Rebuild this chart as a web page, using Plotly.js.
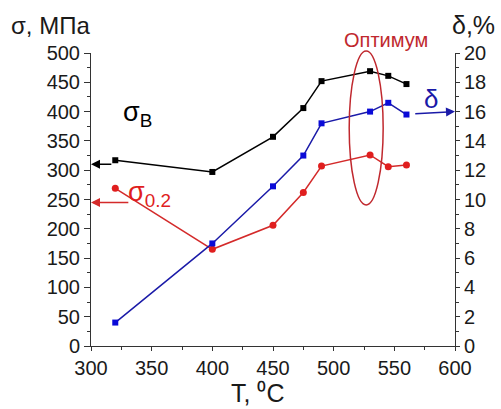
<!DOCTYPE html>
<html><head><meta charset="utf-8">
<script src="https://cdn.plot.ly/plotly-3.0.1.min.js"></script>
<style>html,body{margin:0;padding:0;background:#fff}#c{width:501px;height:409px}</style>
</head><body><div id="c"></div>
<script>
const temps = [320, 400, 450, 475, 490, 530, 545, 560];
const sigmaB = [317, 297, 357, 406, 452, 469, 461, 447];
const sigma02 = [269, 165, 206, 262, 307, 326, 306, 309];
const delta = [1.6, 7.0, 10.9, 13.0, 15.2, 16.0, 16.6, 15.8];
const xTicks = [300, 350, 400, 450, 500, 550, 600];

const L = 90.7, R = 455, T = 53, B = 346;
const px = x => (x - L) / (R - L);
const py = y => (B - y) / (B - T);
const font = "Liberation Sans, Arial, sans-serif";

const traces = [
  {x: temps, y: sigmaB, mode: 'lines+markers', line: {color: '#000', width: 1.5},
   marker: {symbol: 'square', size: 6, color: '#000'}, yaxis: 'y'},
  {x: temps, y: sigma02, mode: 'lines+markers', line: {color: '#d42a2a', width: 1.5},
   marker: {symbol: 'circle', size: 7, color: '#e01e1e'}, yaxis: 'y'},
  {x: temps, y: delta, mode: 'lines+markers', line: {color: '#1a1aa8', width: 1.5},
   marker: {symbol: 'square', size: 6, color: '#0a0ad8'}, yaxis: 'y2'}
];

const tickFont = {family: font, size: 20, color: '#1a1a1a'};
const layout = {
  width: 501, height: 409, showlegend: false,
  paper_bgcolor: '#fff', plot_bgcolor: '#fff',
  margin: {l: L, r: 501 - R, t: T, b: 409 - B, pad: 0},
  xaxis: {range: [300, 600], tickvals: xTicks, ticks: 'outside', ticklen: 4, tickcolor: '#333',
    showline: true, linecolor: '#333', linewidth: 1, showgrid: false, zeroline: false,
    tickfont: tickFont, minor: {dtick: 25, ticks: 'outside', ticklen: 3, tickcolor: '#333'}},
  yaxis: {range: [0, 500], dtick: 50, ticks: 'outside', ticklen: 6, tickcolor: '#333',
    showline: true, linecolor: '#333', linewidth: 1, showgrid: false, zeroline: false,
    tickfont: tickFont, minor: {dtick: 25, ticks: 'outside', ticklen: 3, tickcolor: '#333'}},
  yaxis2: {range: [0, 20], dtick: 2, overlaying: 'y', side: 'right', ticks: 'outside', ticklen: 4,
    tickcolor: '#333', showline: true, linecolor: '#333', linewidth: 1, showgrid: false, zeroline: false,
    tickfont: tickFont, minor: {dtick: 1, ticks: 'outside', ticklen: 3, tickcolor: '#333'}},
  shapes: [
    {type: 'circle', xref: 'x', yref: 'paper', x0: 512.8, x1: 540.8, y0: py(205), y1: py(51),
     line: {color: '#c0282e', width: 1.5}}
  ],
  annotations: [
    {xref: 'paper', yref: 'paper', x: px(257), y: py(393), xanchor: 'center', yanchor: 'middle',
     text: 'T, ⁰C', showarrow: false, borderpad: 0, font: {family: font, size: 25, color: '#1a1a1a'}},
    {xref: 'paper', yref: 'paper', x: px(9), y: py(26), xanchor: 'left', yanchor: 'middle',
     text: 'σ, МПа', showarrow: false, font: {family: font, size: 24, color: '#1a1a1a'}},
    {xref: 'paper', yref: 'paper', x: px(450), y: py(25), xanchor: 'left', yanchor: 'middle',
     text: 'δ,%', showarrow: false, font: {family: font, size: 25, color: '#1a1a1a'}},
    {xref: 'paper', yref: 'paper', x: px(386), y: py(40), xanchor: 'center', yanchor: 'middle',
     text: 'Оптимум', showarrow: false, font: {family: font, size: 20, color: '#c0282e'}},
    {xref: 'paper', yref: 'paper', x: px(121), y: py(114), xanchor: 'left', yanchor: 'middle',
     text: 'σ<sub>В</sub>', showarrow: false, font: {family: font, size: 27, color: '#000'}},
    {xref: 'paper', yref: 'paper', x: px(126), y: py(194), xanchor: 'left', yanchor: 'middle',
     text: 'σ<sub>0.2</sub>', showarrow: false, font: {family: font, size: 27, color: '#e01e1e'}},
    {xref: 'paper', yref: 'paper', x: px(431), y: py(99), xanchor: 'center', yanchor: 'middle',
     text: 'δ', showarrow: false, font: {family: font, size: 26, color: '#1a1aa8'}},
    {xref: 'x', yref: 'y', axref: 'x', ayref: 'y', x: 300, y: 310, ax: 318, ay: 310, text: '',
     showarrow: true, arrowhead: 2, arrowsize: 1.2, arrowwidth: 1.5, arrowcolor: '#000'},
    {xref: 'x', yref: 'y', axref: 'x', ayref: 'y', x: 300, y: 245, ax: 332, ay: 245, text: '',
     showarrow: true, arrowhead: 2, arrowsize: 1.2, arrowwidth: 1.5, arrowcolor: '#d42a2a'},
    {xref: 'x', yref: 'y2', axref: 'x', ayref: 'y2', x: 600, y: 16.0, ax: 566, ay: 15.85, text: '',
     showarrow: true, arrowhead: 2, arrowsize: 1.2, arrowwidth: 1.5, arrowcolor: '#1a1aa8'}
  ]
};
Plotly.newPlot('c', traces, layout, {displayModeBar: false, staticPlot: true});
</script></body></html>
